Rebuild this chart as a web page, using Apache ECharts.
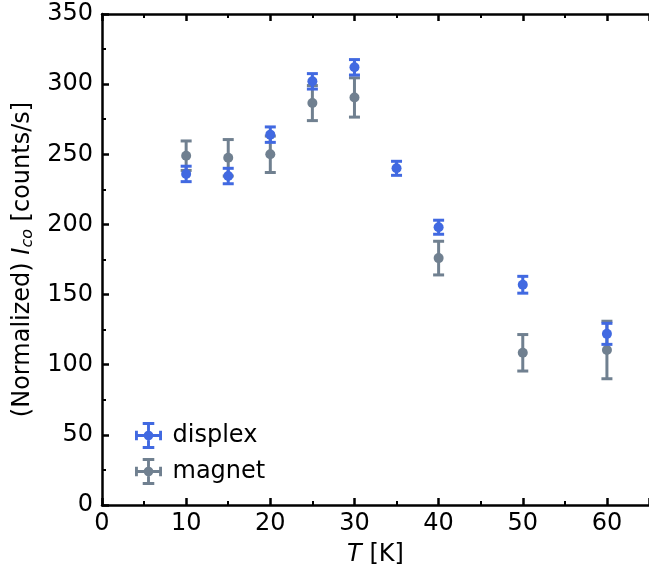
<!DOCTYPE html>
<html>
<head>
<meta charset="utf-8">
<script src="https://cdn.jsdelivr.net/npm/echarts@6/dist/echarts.min.js"></script>
<style>html,body{margin:0;padding:0;background:#fff;}#c{width:649px;height:576px;}</style>
</head>
<body>
<div id="c"></div>
<script>
// ---- data ----
const displexT = [10, 15, 20, 25, 30, 35, 40, 50, 60];
const displexVal = [236, 234.5, 264, 302, 312, 240, 198, 157, 122];
const displexErr = [5.5, 5.5, 5.5, 5.5, 5.5, 5, 5, 6, 7.5];
const magnetT = [10, 15, 20, 25, 30, 40, 50, 60];
const magnetVal = [249, 247.5, 250, 286.5, 290.5, 176, 108.5, 110.5];
const magnetErr = [10.5, 13, 13, 12.5, 14, 12, 13, 20.5];
const seriesNames = ['displex', 'magnet'];
const xTicks = [0, 10, 20, 30, 40, 50, 60];
const yTicks = [0, 50, 100, 150, 200, 250, 300, 350];

const FONT = 'DejaVu Sans';
const FS = 24;
const BLUE = '#4169E1';
const GRAY = '#708090';

function build(T, V, E) {
  return T.map((t, i) => [t, V[i], V[i] - E[i], V[i] + E[i]]);
}

function renderItem(params, api) {
  const x = api.value(0), y = api.value(1), lo = api.value(2), hi = api.value(3);
  const p = api.coord([x, y]);
  const pl = api.coord([x, lo]);
  const ph = api.coord([x, hi]);
  const color = api.visual('color');
  const lw = 3, cw = 5.5, r = 5;
  const st = { stroke: color, lineWidth: lw };
  return {
    type: 'group',
    children: [
      { type: 'line', shape: { x1: p[0], y1: pl[1], x2: p[0], y2: ph[1] }, style: st },
      { type: 'line', shape: { x1: p[0] - cw, y1: pl[1], x2: p[0] + cw, y2: pl[1] }, style: st },
      { type: 'line', shape: { x1: p[0] - cw, y1: ph[1], x2: p[0] + cw, y2: ph[1] }, style: st },
      { type: 'circle', shape: { cx: p[0], cy: p[1], r: r }, style: { fill: color } }
    ]
  };
}

// legend icon: error-bar cross with caps and dot
const ICON = 'path://' +
  'M0,12.5 h28 v3 h-28 z ' +
  'M12.5,0 h3 v28 h-3 z ' +
  'M0,9 h3 v10 h-3 z ' +
  'M25,9 h3 v10 h-3 z ' +
  'M8,0 h12 v3 h-12 z ' +
  'M8,25 h12 v3 h-12 z ' +
  'M9,14 a5,5 0 1,1 10,0 a5,5 0 1,1 -10,0 z';

const axisLineStyle = { lineStyle: { color: '#000', width: 2.5 } };
const tickStyle = { show: true, inside: true, length: 7, lineStyle: { color: '#000', width: 2.5 } };
const minorStyle = { show: true, splitNumber: 2, length: 4, lineStyle: { color: '#000', width: 2 } };

const chart = echarts.init(document.getElementById('c'), null, { renderer: 'canvas' });
chart.setOption({
  backgroundColor: '#fff',
  animation: false,
  grid: { left: 102, top: 14, width: 557, height: 491, containLabel: false },
  legend: {
    orient: 'vertical',
    left: 135, top: 422, padding: 0,
    itemWidth: 28, itemHeight: 27, itemGap: 9,
    textStyle: { fontFamily: FONT, fontSize: FS, color: '#000', padding: [0, 0, 0, 5] },
    data: [
      { name: seriesNames[0], icon: ICON },
      { name: seriesNames[1], icon: ICON }
    ]
  },
  xAxis: [
    {
      type: 'value', position: 'bottom', min: 0, max: 65, interval: 10,
      axisLine: axisLineStyle, axisTick: tickStyle, minorTick: minorStyle,
      splitLine: { show: false },
      axisLabel: {
        fontFamily: FONT, fontSize: FS, color: '#000', margin: 7, showMaxLabel: false,
        formatter: v => (xTicks.indexOf(v) >= 0 ? String(v) : '')
      },
      name: '{it|T} [K]',
      nameLocation: 'middle', nameGap: 38,
      nameTextStyle: {
        fontFamily: FONT, fontSize: FS, color: '#000', verticalAlign: 'top',
        rich: { it: { fontFamily: FONT, fontSize: FS, fontStyle: 'italic', color: '#000' } }
      }
    },
    {
      type: 'value', position: 'top', min: 0, max: 65, interval: 10,
      axisLine: axisLineStyle, axisTick: tickStyle, minorTick: minorStyle,
      splitLine: { show: false }, axisLabel: { show: false }
    }
  ],
  yAxis: [
    {
      type: 'value', min: 0, max: 350, interval: 50,
      axisLine: { show: true, lineStyle: { color: '#000', width: 2.5 } },
      axisTick: tickStyle, minorTick: minorStyle,
      splitLine: { show: false },
      axisLabel: {
        fontFamily: FONT, fontSize: FS, color: '#000', margin: 9,
        formatter: v => (yTicks.indexOf(v) >= 0 ? String(v) : '')
      },
      name: '(Normalized) {it|I}{sub|co} [counts/s]',
      nameLocation: 'middle', nameGap: 61,
      nameTextStyle: {
        fontFamily: FONT, fontSize: FS, color: '#000', lineHeight: 28,
        rich: {
          it: { fontFamily: FONT, fontSize: FS, fontStyle: 'italic', color: '#000', lineHeight: 28 },
          sub: { fontFamily: FONT, fontSize: 16, fontStyle: 'italic', color: '#000', verticalAlign: 'bottom', lineHeight: 16 }
        }
      }
    }
  ],
  series: [
    {
      name: seriesNames[1], type: 'custom', renderItem: renderItem,
      itemStyle: { color: GRAY },
      encode: { x: 0, y: 1 },
      data: build(magnetT, magnetVal, magnetErr), z: 2
    },
    {
      name: seriesNames[0], type: 'custom', renderItem: renderItem,
      itemStyle: { color: BLUE },
      encode: { x: 0, y: 1 },
      data: build(displexT, displexVal, displexErr), z: 3
    }
  ]
});
</script>
</body>
</html>
